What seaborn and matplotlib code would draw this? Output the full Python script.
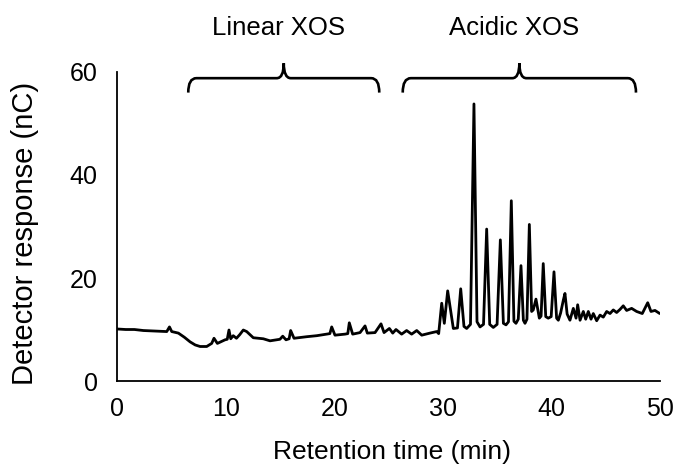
import matplotlib
matplotlib.use("Agg")
import matplotlib.pyplot as plt
from matplotlib.path import Path
from matplotlib.patches import PathPatch
import seaborn as sns

# Chromatogram (retention time in min, response in nC)
retention_time = [
    0.0, 0.8, 1.6, 2.43, 3.5, 4.58, 4.83, 5.04, 5.65, 6.2, 6.73, 7.2, 7.65,
    8.26, 8.72, 8.93, 9.24, 9.95, 10.15, 10.31, 10.47, 10.7, 11.0, 11.3, 11.63,
    11.94, 12.55, 13.47, 14.09, 15.0, 15.26, 15.56, 15.85, 15.99, 16.3, 17.47,
    18.4, 19.31, 19.6, 19.77, 20.07, 20.99, 21.25, 21.39, 21.7, 22.38, 22.84,
    23.05, 23.76, 24.31, 24.59, 25.08, 25.39, 25.69, 26.21, 26.67, 27.13,
    27.6, 28.06, 28.82, 29.44, 29.62, 29.9, 30.14, 30.45, 30.97, 31.35, 31.65,
    31.95, 32.2, 32.55, 32.87, 33.15, 33.43, 33.75, 34.04, 34.32, 34.65, 35.0,
    35.3, 35.58, 35.82, 36.05, 36.31, 36.55, 36.74, 36.95, 37.2, 37.42, 37.57,
    37.75, 37.97, 38.18, 38.33, 38.58, 38.89, 39.05, 39.25, 39.48, 39.71,
    39.98, 40.24, 40.48, 40.64, 40.85, 41.1, 41.25, 41.45, 41.71, 42.02,
    42.27, 42.42, 42.64, 42.94, 43.16, 43.4, 43.65, 43.86, 44.17, 44.48,
    44.78, 45.09, 45.4, 45.7, 46.01, 46.32, 46.62, 46.93, 47.39, 47.85,
    48.37, 48.87, 49.17, 49.54, 49.98,
]
detector_response = [
    10.1, 10.0, 10.0, 9.8, 9.7, 9.6, 10.5, 9.6, 9.3, 8.5, 7.6, 7.0, 6.7,
    6.7, 7.3, 8.3, 7.3, 8.0, 8.1, 9.9, 8.2, 8.8, 8.3, 9.0, 9.9,
    9.6, 8.4, 8.2, 7.8, 8.1, 8.7, 8.0, 8.2, 9.8, 8.3, 8.6,
    8.8, 9.1, 9.2, 10.5, 8.9, 9.1, 9.2, 11.3, 9.1, 9.4, 10.7,
    9.3, 9.4, 11.1, 9.4, 10.2, 9.3, 10.0, 9.1, 9.8, 9.1,
    9.8, 8.9, 9.3, 9.6, 9.2, 15.1, 11.2, 17.5, 10.2, 10.3, 17.9,
    10.6, 10.2, 11.0, 53.8, 11.5, 10.5, 11.0, 29.5, 11.0, 10.4, 11.0,
    27.4, 11.2, 10.9, 11.5, 35.0, 11.6, 11.2, 12.0, 22.4, 11.8, 11.2,
    12.0, 30.4, 13.5, 13.8, 15.9, 12.2, 12.6, 22.8, 12.5, 12.2,
    12.5, 21.2, 12.2, 11.8, 13.2, 15.7, 17.0, 13.0, 11.8, 14.1,
    12.2, 14.8, 11.8, 13.5, 12.0, 13.5, 12.0, 13.1, 11.7, 12.8,
    12.4, 13.5, 13.1, 13.8, 13.3, 13.9, 14.6, 13.7, 14.1, 13.5,
    13.1, 15.2, 13.5, 13.7, 13.1,
]

# Bracketed regions above the trace: label, start, end (min)
region_labels = ["Linear XOS", "Acidic XOS"]
region_start = [6.56, 26.31]
region_end = [24.15, 47.79]

x_ticks = [0, 10, 20, 30, 40, 50]
y_ticks = [0, 20, 40, 60]

sns.set_style("white")
plt.rcParams["font.family"] = ["Liberation Sans", "DejaVu Sans"]
plt.rcParams["text.color"] = "black"
plt.rcParams["axes.labelcolor"] = "black"

fig = plt.figure(figsize=(6.76, 4.66), dpi=100)
ax = fig.add_axes([0.1731, 0.1824, 0.8032, 0.6631])

sns.lineplot(x=retention_time, y=detector_response, color="black",
             linewidth=2.0, sort=False, estimator=None, ax=ax)

ax.set_xlim(0, 50)
ax.set_ylim(0, 60)
ax.set_xticks(x_ticks)
ax.set_yticks(y_ticks)
ax.tick_params(axis="both", length=0, labelsize=18, colors="black")
ax.tick_params(axis="x", pad=11.5)
ax.tick_params(axis="y", pad=14)

for side in ["top", "right"]:
    ax.spines[side].set_visible(False)
for side in ["left", "bottom"]:
    ax.spines[side].set_color("black")
    ax.spines[side].set_linewidth(1.3)

ax.set_xlabel("Retention time (min)", fontsize=19, va="center")
ax.set_ylabel("Detector response (nC)", fontsize=21, va="center")
ax.xaxis.set_label_coords(0.506, -0.23)
ax.yaxis.set_label_coords(-0.169, 0.476)


def brace_path(x0, x1, y_end=56.0, y_line=58.8, y_tip=61.7, dx=0.75, dxm=0.65):
    xm = (x0 + x1) / 2
    verts = [
        (x0, y_end),
        (x0, y_line), (x0 + dx, y_line),
        (xm - dxm, y_line),
        (xm, y_line), (xm, y_tip),
        (xm, y_line), (xm + dxm, y_line),
        (x1 - dx, y_line),
        (x1, y_line), (x1, y_end),
    ]
    codes = [
        Path.MOVETO,
        Path.CURVE3, Path.CURVE3,
        Path.LINETO,
        Path.CURVE3, Path.CURVE3,
        Path.CURVE3, Path.CURVE3,
        Path.LINETO,
        Path.CURVE3, Path.CURVE3,
    ]
    return Path(verts, codes)


for label, start, end in zip(region_labels, region_start, region_end):
    patch = PathPatch(brace_path(start, end), facecolor="none",
                      edgecolor="black", linewidth=1.9, clip_on=False)
    ax.add_patch(patch)
    ax.text((start + end) / 2 - 0.5, 68.5, label, ha="center", va="center",
            fontsize=18.5, clip_on=False)

fig.savefig("out.png", dpi=100)
